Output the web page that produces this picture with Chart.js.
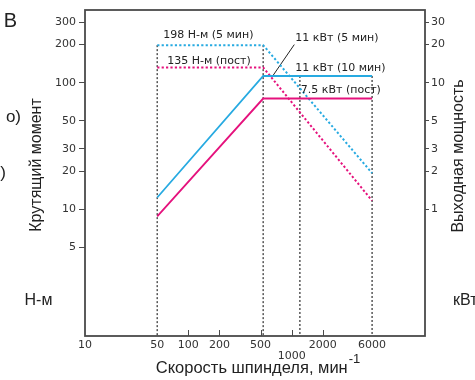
<!DOCTYPE html>
<html><head><meta charset="utf-8">
<script src="https://cdn.jsdelivr.net/npm/chart.js@4"></script>
<style>html,body{margin:0;padding:0;background:#fff;overflow:hidden}</style>
</head><body>
<canvas id="c" width="475" height="380"></canvas>
<script>
// ---- data ----
const speedTicks = [10, 50, 100, 200, 500, 1000, 2000, 6000];      // rpm
const innerTickSpeeds = [100, 200, 500, 1000, 2000];
const torqueTicks = [5, 10, 20, 30, 50, 100, 200, 300];            // N·m
const powerTicks = [1, 2, 3, 5, 10, 20, 30];                       // kW

const speeds = [50, 530, 6000];
const power5min = [1.24, 11.3, 11.3];     // kW, blue solid
const powerCont = [0.88, 7.5, 7.5];       // kW, pink solid
const torque5min = [198, 198, 19.3];      // N·m, blue dotted
const torqueCont = [132, 132, 11.7];      // N·m, pink dotted

const guideSpeeds = [50, 530, 1200, 6000];
const guideTops = [198, 198, 113, 113];   // N·m
const leaderSpeeds = [655, 1060];
const leaderPower = [11.3, 20];

const annText = ['198 Н-м (5 мин)', '135 Н-м (пост)', '11 кВт (5 мин)', '11 кВт (10 мин)', '7.5 кВт (пост)'];
const annSpeed = [50, 50, 1060, 1060, 1200];
const annValue = [198, 132, 20, 11.3, 7.5];
const annAxis = ['y', 'y', 'y2', 'y2', 'y2'];

const BLUE = '#27aae1', PINK = '#e5127d', GREY = '#4a4a4a';

const pts = (xs, ys) => xs.map((v, i) => ({x: v, y: ys[i]}));

const datasets = [
  {data: pts(speeds, power5min), yAxisID: 'y2', borderColor: BLUE, borderWidth: 1.8},
  {data: pts(speeds, powerCont), yAxisID: 'y2', borderColor: PINK, borderWidth: 1.8},
  {data: pts(speeds, torque5min), yAxisID: 'y', borderColor: BLUE, borderWidth: 2, borderDash: [2.2, 2.2]},
  {data: pts(speeds, torqueCont), yAxisID: 'y', borderColor: PINK, borderWidth: 2, borderDash: [2.2, 2.2]},
  {data: pts(leaderSpeeds, leaderPower), yAxisID: 'y2', borderColor: '#222', borderWidth: 1},
];
guideSpeeds.forEach((s, i) => datasets.push({
  data: [{x: s, y: guideTops[i]}, {x: s, y: 1}], yAxisID: 'y',
  borderColor: '#555', borderWidth: 1.5, borderDash: [2, 2]
}));

const tickFont = {family: 'DejaVu Sans', size: 11, lineHeight: 1.0};
const TITLE = '16px "Liberation Sans", Arial, sans-serif';

const deco = {
  id: 'deco',
  afterDraw(chart) {
    const {ctx, chartArea: a, scales} = chart;
    const x = scales.x;
    ctx.save();
    ctx.strokeStyle = GREY; ctx.lineWidth = 1.8;
    ctx.strokeRect(a.left, a.top, a.right - a.left, a.bottom - a.top);
    ctx.lineWidth = 1;
    innerTickSpeeds.forEach(v => {
      const px = Math.round(x.getPixelForValue(v)) + 0.5;
      ctx.beginPath(); ctx.moveTo(px, a.bottom); ctx.lineTo(px, a.bottom - 6); ctx.stroke();
    });
    // annotations
    ctx.fillStyle = '#222';
    ctx.font = '11px "DejaVu Sans"';
    ctx.textBaseline = 'middle'; ctx.textAlign = 'left';
    const offs = [[6, -9.5], [10, -6.5], [1, -6.5], [1, -7.7], [1, -8]];
    annText.forEach((t, i) => {
      const px = x.getPixelForValue(annSpeed[i]) + offs[i][0];
      const py = scales[annAxis[i]].getPixelForValue(annValue[i]) + offs[i][1];
      ctx.fillText(t, px, py);
    });
    // axis titles and units
    ctx.font = TITLE;
    ctx.textAlign = 'center';
    ctx.save(); ctx.translate(37, 165); ctx.rotate(-Math.PI / 2); ctx.fillText('Крутящий момент', 0, 0); ctx.restore();
    ctx.save(); ctx.translate(459, 156); ctx.rotate(-Math.PI / 2); ctx.fillText('Выходная мощность', 0, 0); ctx.restore();
    ctx.fillText('Н-м', 38.5, 301);
    ctx.textAlign = 'left';
    ctx.fillText('кВт', 453, 301);
    // x title with superscript
    ctx.textBaseline = 'alphabetic';
    const main = 'Скорость шпинделя, мин';
    const MAINF = '16.5px "Liberation Sans", Arial, sans-serif';
    const SUPF = '13px "Liberation Sans", Arial, sans-serif';
    ctx.font = MAINF;
    const w1 = ctx.measureText(main).width;
    ctx.font = SUPF;
    const w2 = ctx.measureText('-1').width;
    const sx = 258 - (w1 + w2 + 1) / 2;
    ctx.font = MAINF;
    ctx.fillText(main, sx, 373);
    ctx.font = SUPF;
    ctx.fillText('-1', sx + w1 + 1, 363);
    // cropped neighbouring text at the left edge
    ctx.textAlign = 'right';
    ctx.font = '20px "Liberation Sans", Arial, sans-serif';
    ctx.fillText('В', 17, 27);
    ctx.font = '17px "Liberation Sans", Arial, sans-serif';
    ctx.fillText('о)', 21, 122);
    ctx.fillText(')', 6, 178);
    ctx.restore();
  }
};

new Chart(document.getElementById('c'), {
  type: 'line',
  data: {datasets},
  options: {
    responsive: false, animation: false, devicePixelRatio: 1,
    layout: {padding: {top: 10, left: 0, right: 0, bottom: 0}},
    plugins: {legend: {display: false}, tooltip: {enabled: false}},
    elements: {point: {radius: 0}, line: {tension: 0, fill: false}},
    scales: {
      x: {
        type: 'logarithmic', position: 'bottom', min: 10, max: 19500,
        afterBuildTicks: s => { s.ticks = speedTicks.map(v => ({value: v})); },
        afterFit: s => { s.height = 44; },
        grid: {display: false, drawTicks: false}, border: {display: false},
        ticks: {autoSkip: false, maxRotation: 0, minRotation: 0, padding: 4, color: '#333', font: tickFont,
          callback: v => v === 1000 ? ['', '1000'] : String(v)}
      },
      y: {
        type: 'logarithmic', position: 'left', min: 1, max: 375,
        afterBuildTicks: s => { s.ticks = torqueTicks.map(v => ({value: v})); },
        afterFit: s => { s.width = 85; },
        grid: {drawOnChartArea: false, drawTicks: true, tickLength: 6, tickColor: GREY, tickWidth: 1},
        border: {display: false},
        ticks: {autoSkip: false, padding: 3, color: '#333', font: tickFont, callback: v => String(v)}
      },
      y2: {
        type: 'logarithmic', position: 'right', min: 0.1, max: 37.5,
        afterBuildTicks: s => { s.ticks = powerTicks.map(v => ({value: v})); },
        afterFit: s => { s.width = 50; },
        grid: {drawOnChartArea: false, drawTicks: true, tickLength: 4, tickColor: GREY, tickWidth: 1},
        border: {display: false},
        ticks: {autoSkip: false, padding: 2, color: '#333', font: tickFont, callback: v => String(v)}
      }
    }
  },
  plugins: [deco]
});
</script>
</body></html>
